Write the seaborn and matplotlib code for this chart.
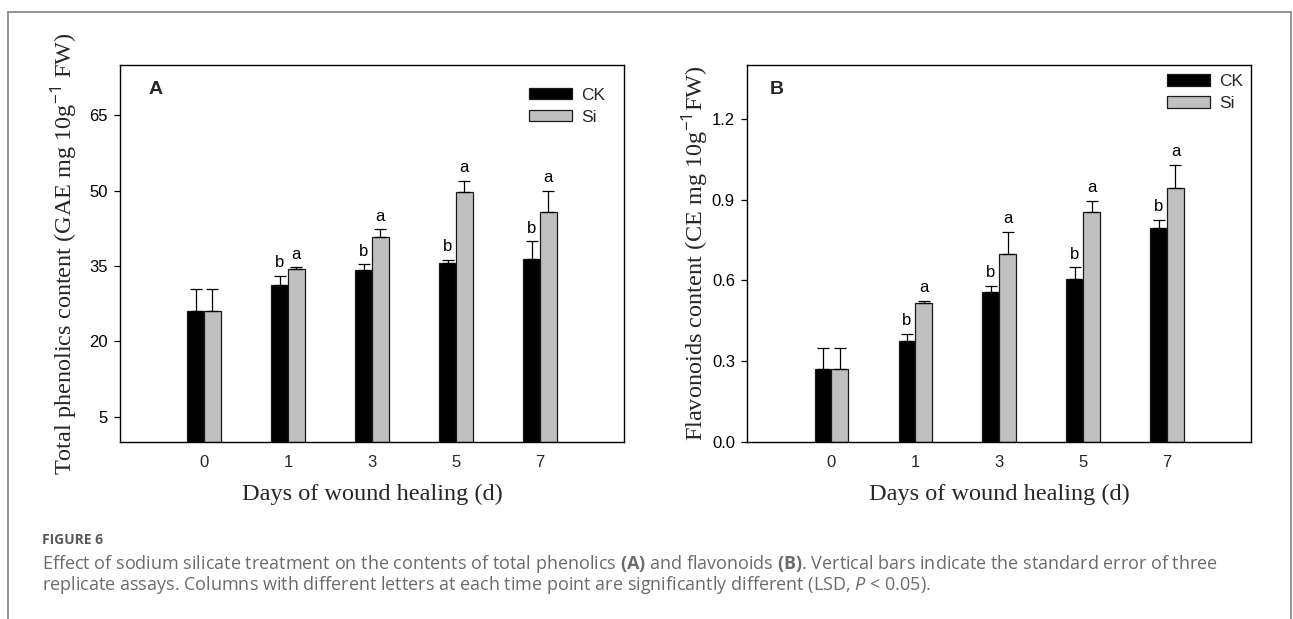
import numpy as np
import pandas as pd
import matplotlib
matplotlib.use("Agg")
import matplotlib.pyplot as plt
import seaborn as sns
from matplotlib.patches import Patch
from matplotlib.lines import Line2D

# ---------------- data ----------------
days = ["0", "1", "3", "5", "7"]
treatments = ["CK", "Si"]

phen_ck = [26.0, 31.3, 34.3, 35.6, 36.5]
phen_si = [26.0, 34.5, 40.8, 49.8, 45.8]
phen_ck_err = [4.4, 1.8, 1.1, 0.7, 3.4]
phen_si_err = [4.4, 0.3, 1.5, 2.2, 4.2]

flav_ck = [0.27, 0.374, 0.558, 0.606, 0.796]
flav_si = [0.27, 0.517, 0.700, 0.855, 0.944]
flav_ck_err = [0.08, 0.027, 0.023, 0.043, 0.029]
flav_si_err = [0.08, 0.008, 0.081, 0.041, 0.086]

letters_ck = ["", "b", "b", "b", "b"]
letters_si = ["", "a", "a", "a", "a"]

phen_ticks = [5, 20, 35, 50, 65]
flav_ticks = [0.0, 0.3, 0.6, 0.9, 1.2]

# ---------------- style ----------------
sns.set_theme(style="white")
plt.rcParams["font.family"] = ["Liberation Sans", "DejaVu Sans"]
plt.rcParams["mathtext.fontset"] = "custom"
plt.rcParams["mathtext.rm"] = "Open Sans"
plt.rcParams["mathtext.it"] = "Open Sans:italic"
plt.rcParams["mathtext.bf"] = "Open Sans:bold"
plt.rcParams["mathtext.fallback"] = "cm"

BAR_COLORS = ["#000000", "#c0c0c0"]
EDGE = "#1a1a1a"
SERIF = ["Liberation Serif", "DejaVu Serif"]

fig = plt.figure(figsize=(12.93, 6.19), dpi=100)
axA = fig.add_axes([0.0928, 0.2859, 0.3898, 0.6091])
axB = fig.add_axes([0.5781, 0.2859, 0.3894, 0.6091])


def panel(ax, ck, si, ck_err, si_err, ylim, yticks, fmt, ylabel, tag,
          tag_x, leg_anchor, ylabelpad):
    df = pd.DataFrame({
        "day": days * 2,
        "trt": [treatments[0]] * len(days) + [treatments[1]] * len(days),
        "val": ck + si,
    })
    sns.barplot(data=df, x="day", y="val", hue="trt", order=days,
                hue_order=treatments, palette=BAR_COLORS, width=0.4,
                saturation=1, edgecolor=EDGE, linewidth=0.9,
                errorbar=None, ax=ax, legend=False)
    for cont, errs, lets in zip(ax.containers, [ck_err, si_err],
                                [letters_ck, letters_si]):
        xs = [p.get_x() + p.get_width() / 2 for p in cont]
        ys = [p.get_height() for p in cont]
        ax.errorbar(xs, ys, yerr=[np.zeros(len(errs)), errs], fmt="none",
                    ecolor="black", elinewidth=0.9, capsize=4.5,
                    capthick=0.9, zorder=3)
        for x, y, e, l in zip(xs, ys, errs, lets):
            if l:
                ax.annotate(l, (x, y + e), xytext=(0, 4),
                            textcoords="offset points", ha="center",
                            va="bottom", fontsize=12, color="black")
    ax.set_xlim(-1, len(days))
    ax.set_ylim(*ylim)
    ax.set_yticks(yticks)
    ax.set_yticklabels([fmt.format(t) for t in yticks])
    ax.tick_params(axis="y", direction="out", length=4, width=0.9,
                   pad=5, labelsize=12, left=True, colors="black")
    ax.tick_params(axis="x", length=0, pad=9, labelsize=12)
    for s in ax.spines.values():
        s.set_color("black")
        s.set_linewidth(1.0)
    ax.set_xlabel("Days of wound healing (d)", family=SERIF, fontsize=17.5,
                  labelpad=10)
    ax.set_ylabel(ylabel, family=SERIF, fontsize=17.5, labelpad=ylabelpad)
    ax.text(tag_x, 0.934, tag, transform=ax.transAxes, fontsize=14,
            fontweight="bold", ha="center", va="center")
    handles = [Patch(facecolor=c, edgecolor=EDGE, linewidth=0.9)
               for c in BAR_COLORS]
    ax.legend(handles, treatments, loc="upper right",
              bbox_to_anchor=leg_anchor, frameon=False, fontsize=12.5,
              handlelength=2.5, handleheight=0.65, labelspacing=0.4,
              handletextpad=0.5, borderaxespad=0, borderpad=0)


panel(axA, phen_ck, phen_si, phen_ck_err, phen_si_err, (0, 75), phen_ticks,
      "{:g}", "Total phenolics content (GAE mg 10g$^{-1}$ FW)", "A", 0.071,
      (0.962, 0.94), 7)
panel(axB, flav_ck, flav_si, flav_ck_err, flav_si_err, (0, 1.4), flav_ticks,
      "{:.1f}", "Flavonoids content (CE mg 10g$^{-1}$FW)", "B", 0.059,
      (0.984, 0.976), 1)

# outer frame (left, top, right)
W, H = 1293, 619
fx = lambda px: px / W
fy = lambda py: 1 - py / H
frame_kw = dict(color="#8a8a8a", linewidth=1.3, transform=fig.transFigure)
fig.add_artist(Line2D([fx(8), fx(8)], [0, fy(12)], **frame_kw))
fig.add_artist(Line2D([fx(8), fx(1291)], [fy(12), fy(12)], **frame_kw))
fig.add_artist(Line2D([fx(1291), fx(1291)], [fy(12), 0], **frame_kw))

# caption
cap_font = ["Open Sans", "DejaVu Sans"]
fig.text(fx(42), fy(540), "FIGURE 6", family=cap_font, fontsize=10,
         fontweight="bold", color="#5a5a5a", va="center", ha="left")
fig.text(fx(42), fy(564),
         "Effect of sodium silicate treatment on the contents of total phenolics "
         r"$\mathbf{(A)}$ and flavonoids $\mathbf{(B)}$. Vertical bars indicate "
         "the standard error of three",
         family=cap_font, fontsize=13, color="#6b6b6b", va="center", ha="left")
fig.text(fx(42), fy(585),
         "replicate assays. Columns with different letters at each time point "
         r"are significantly different (LSD, $P$ < 0.05).",
         family=cap_font, fontsize=13, color="#6b6b6b", va="center", ha="left")

fig.savefig("out.png", dpi=100)
